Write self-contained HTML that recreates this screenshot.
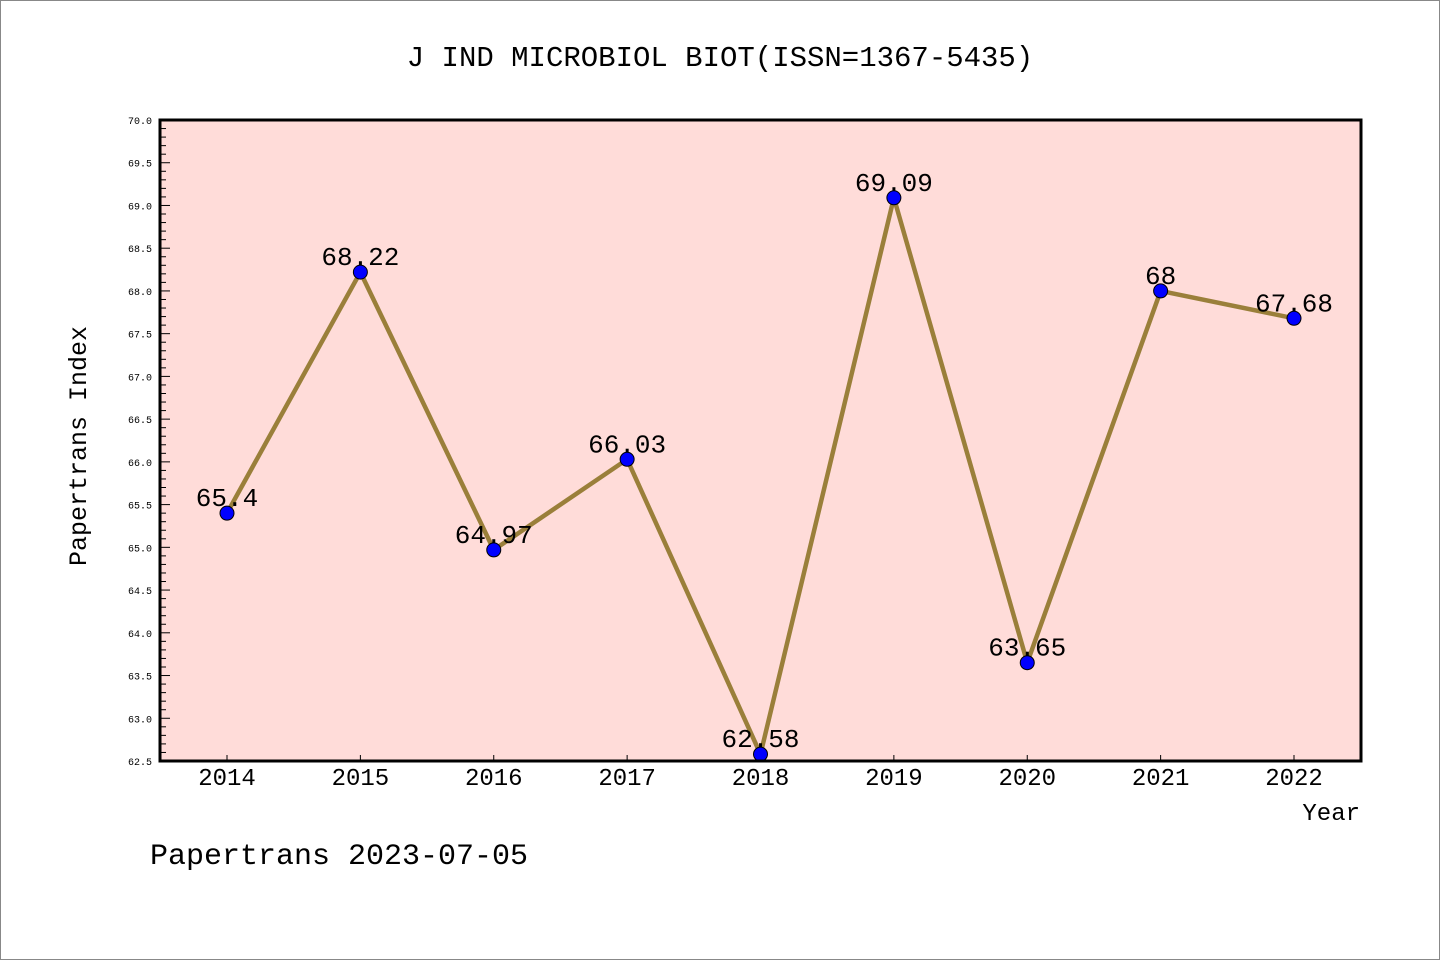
<!DOCTYPE html>
<html><head><meta charset="utf-8"><style>
html,body{margin:0;padding:0;background:#fff;}
svg{display:block;}
text{font-family:"Liberation Mono","DejaVu Sans Mono",monospace;fill:#000;}
</style></head><body>
<svg id="chart" width="1440" height="960" xmlns="http://www.w3.org/2000/svg">
<rect x="0.5" y="0.5" width="1439" height="959" fill="#fff" stroke="#888"/>
<text x="720" y="66" font-size="29" text-anchor="middle">J IND MICROBIOL BIOT(ISSN=1367-5435)</text>
<rect x="160" y="120" width="1201" height="641" fill="#ffdcd9"/>
<g id="yaxis"></g>
<g id="xaxis"></g>
<g id="series"></g>
<rect x="160" y="120" width="1201" height="641" fill="none" stroke="#000" stroke-width="3"/>
<text x="86" y="446" font-size="25" text-anchor="middle" transform="rotate(-90 86 446)">Papertrans Index</text>
<text x="1360" y="820" font-size="24" text-anchor="end">Year</text>
<text x="150" y="864" font-size="30">Papertrans 2023-07-05</text>
</svg>
<script>
const years = ["2014","2015","2016","2017","2018","2019","2020","2021","2022"];
const values = [65.4,68.22,64.97,66.03,62.58,69.09,63.65,68,67.68];
const valueLabels = ["65.4","68.22","64.97","66.03","62.58","69.09","63.65","68","67.68"];
const yTicks = ["62.5","63.0","63.5","64.0","64.5","65.0","65.5","66.0","66.5","67.0","67.5","68.0","68.5","69.0","69.5","70.0"];
const NS="http://www.w3.org/2000/svg";
const yMin=62.5,yMax=70,plotTop=120,plotBot=761,plotLeft=160;
function yPos(v){return plotBot-(v-yMin)/(yMax-yMin)*(plotBot-plotTop);}
function xPos(i){return 227+i*(1294-227)/(years.length-1);}
function mk(tag,attrs,parent){const e=document.createElementNS(NS,tag);for(const k in attrs)e.setAttribute(k,attrs[k]);parent.appendChild(e);return e;}
const ya=document.getElementById('yaxis'),xa=document.getElementById('xaxis'),sg=document.getElementById('series');
for(let k=0;k<=75;k++){
  const v=yMin+k*0.1,yy=yPos(v),major=k%5===0;
  const t=mk('line',{x1:plotLeft,x2:plotLeft+(major?10:6),y1:yy,y2:yy,stroke:'#000','stroke-width':1},ya);
  
  
}
yTicks.forEach(s=>{
  const tx=mk('text',{x:152,y:yPos(parseFloat(s))+4,'font-size':10,'text-anchor':'end','font-family':'Liberation Sans, sans-serif'},ya);
  tx.textContent=s;
  
  
});
years.forEach((s,i)=>{
  const t=mk('line',{x1:xPos(i),x2:xPos(i),y1:plotBot,y2:plotBot-6,stroke:'#000','stroke-width':1},xa);
  
  
  const tx=mk('text',{x:xPos(i),y:785,'font-size':24,'text-anchor':'middle'},xa);
  tx.textContent=s;
  
  
});
const pts=values.map((v,i)=>xPos(i)+','+yPos(v)).join(' ');
const pl=mk('polyline',{points:pts,fill:'none',stroke:'#9a7f3a','stroke-width':4.5,'stroke-linejoin':'miter'},sg);


values.forEach((v,i)=>{
  const c=mk('circle',{cx:xPos(i),cy:yPos(v),r:7,fill:'#0000ff',stroke:'#000','stroke-width':1},sg);
  
  
  const tx=mk('text',{x:xPos(i),y:yPos(v)-7,'font-size':26,'text-anchor':'middle'},sg);
  tx.textContent=valueLabels[i];
  
  
});
</script>
</body></html>
